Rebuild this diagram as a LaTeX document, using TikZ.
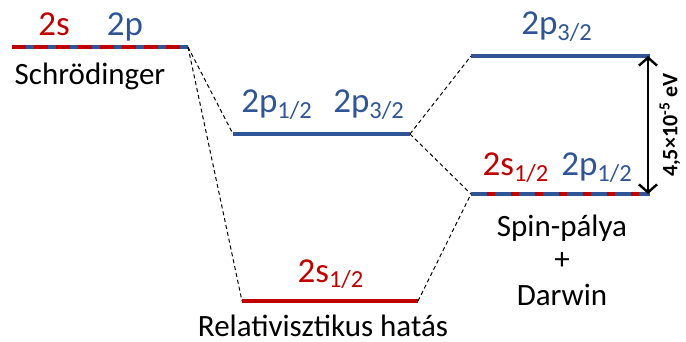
\documentclass[tikz,border=0pt]{standalone}
\usepackage{fontspec}
\setmainfont{Carlito}
\usetikzlibrary{arrows.meta}
\definecolor{sred}{RGB}{192,0,0}
\definecolor{pblue}{RGB}{47,85,151}

\begin{document}
\begin{tikzpicture}[x=0.5pt, y=-0.5pt,
    level/.style={line width=1.6pt},
    link/.style={black, line width=0.5pt, dash pattern=on 2pt off 1.5pt},
    lbl/.style={anchor=base, inner sep=0pt, font=\fontsize{15.5}{18}\selectfont},
    term/.style={lbl, font=\fontsize{17.5}{20}\selectfont}]
    \useasboundingbox (0,0) rectangle (686,342);

    % Level end points
    \coordinate (schL) at (12,47);
    \coordinate (schR) at (188,47);
    \coordinate (pL) at (233,134);
    \coordinate (pR) at (410,134);
    \coordinate (sL) at (242,301);
    \coordinate (sR) at (418,301);
    \coordinate (topL) at (471,56);
    \coordinate (topR) at (650,56);
    \coordinate (botL) at (471,194);
    \coordinate (botR) at (650,194);

    % Schroedinger level: 2s and 2p together
    \draw[level, pblue] (schL) -- (schR);
    \draw[level, sred, dash pattern=on 7pt off 4pt] (schL) -- (schR);
    \node[term, sred] (s0) at (54,36) {2s};
    \node[term, pblue] (p0) at (125,36) {2p};
    \node[lbl] (schr) at (90,85) {Schrödinger};

    % Relativistic correction
    \draw[level, pblue] (pL) -- (pR);
    \node[term, pblue] (p1) at (277,113) {2p\textsubscript{1/2}};
    \node[term, pblue] (p3) at (369,113) {2p\textsubscript{3/2}};
    \draw[level, sred] (sL) -- (sR);
    \node[term, sred] (s1) at (331,282) {2s\textsubscript{1/2}};
    \node[lbl] (rel) at (323,336) {Relativisztikus hatás};

    % Spin-orbit + Darwin
    \draw[level, pblue] (topL) -- (topR);
    \node[term, pblue] (p3b) at (557,35) {2p\textsubscript{3/2}};
    \draw[level, pblue] (botL) -- (botR);
    \draw[level, sred, dash pattern=on 4pt off 8pt, dash phase=4pt] (botL) -- (botR);
    \node[term, sred] (s1b) at (516,176) {2s\textsubscript{1/2}};
    \node[term, pblue] (p1b) at (597,176) {2p\textsubscript{1/2}};
    \node[lbl] (spin) at (562,236) {Spin-pálya};
    \node[lbl] (plus) at (562,270) {+};
    \node[lbl] (darw) at (562,305) {Darwin};

    % Dashed connectors
    \draw[link] (schR) -- (pL);
    \draw[link] (schR) -- (sL);
    \draw[link] (pR) -- (topL);
    \draw[link] (pR) -- (botL);
    \draw[link] (sR) -- (botL);

    % Splitting
    \coordinate (arrT) at (648,56);
    \coordinate (arrB) at (648,194);
    \draw[line width=1.2pt, {Straight Barb[length=4pt,width=9pt]}-{Straight Barb[length=4pt,width=9pt]}] (arrT) -- (arrB);
    \node[rotate=90, inner sep=0pt, font=\fontsize{11}{12}\selectfont\bfseries] (gap) at (670,125) {4,5×10\textsuperscript{-5} eV};
\end{tikzpicture}
\end{document}
